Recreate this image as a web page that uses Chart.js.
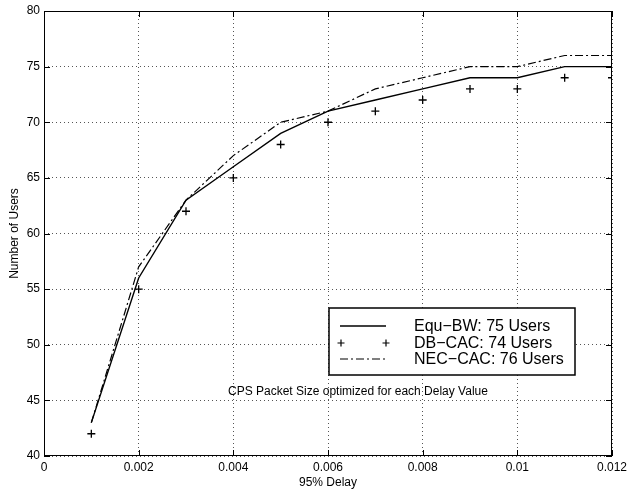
<!DOCTYPE html>
<html>
<head>
<meta charset="utf-8">
<script src="https://cdn.jsdelivr.net/npm/chart.js@4"></script>
<style>
  html, body { margin: 0; padding: 0; background: #fff; }
  #wrap { width: 628px; height: 490px; }
</style>
</head>
<body>
<div id="wrap"><canvas id="grafico1" width="628" height="490"></canvas></div>
<script>
const delays = [0.001, 0.002, 0.003, 0.004, 0.005, 0.006, 0.007, 0.008, 0.009, 0.010, 0.011, 0.012];
const equBW = [43, 56, 63, 66, 69, 71, 72, 73, 74, 74, 75, 75];
const dbCAC = [42, 55, 62, 65, 68, 70, 71, 72, 73, 73, 74, 74];
const necCAC = [43, 57, 63, 67, 70, 71, 73, 74, 75, 75, 76, 76];
const seriesLabels = ["Equ\u2212BW: 75 Users", "DB\u2212CAC: 74 Users", "NEC\u2212CAC: 76 Users"];
const note = "CPS Packet Size optimized for each Delay Value";
const xTitle = "95% Delay";
const yTitle = "Number of Users";

const fonte = "'Liberation Sans', Arial, Helvetica, sans-serif";

function pares(valores) {
    return delays.map((d, i) => ({ x: d, y: valores[i] }));
}

// box, inward ticks, legend and note drawn on top
const extras = {
    id: 'extras',
    afterDraw(chart) {
        const ctx = chart.ctx;
        const a = chart.chartArea;
        const sx = chart.scales.x;
        const sy = chart.scales.y;
        ctx.save();
        ctx.strokeStyle = '#000';
        ctx.lineWidth = 1;
        ctx.strokeRect(a.left + 0.5, a.top + 0.5, a.right - a.left - 1, a.bottom - a.top - 1);

        ctx.beginPath();
        sx.ticks.forEach(t => {
            const px = Math.round(sx.getPixelForValue(t.value)) + 0.5;
            ctx.moveTo(px, a.bottom); ctx.lineTo(px, a.bottom - 6);
            ctx.moveTo(px, a.top); ctx.lineTo(px, a.top + 6);
        });
        sy.ticks.forEach(t => {
            const py = Math.round(sy.getPixelForValue(t.value)) + 0.5;
            ctx.moveTo(a.left, py); ctx.lineTo(a.left + 6, py);
            ctx.moveTo(a.right, py); ctx.lineTo(a.right - 6, py);
        });
        ctx.stroke();

        // note
        ctx.fillStyle = '#000';
        ctx.font = '12px ' + fonte;
        ctx.textAlign = 'left';
        ctx.textBaseline = 'middle';
        ctx.fillText(note, 228, 392);

        // legend
        const bx = 329, by = 308, bw = 246, bh = 67;
        ctx.fillStyle = '#fff';
        ctx.fillRect(bx, by, bw, bh);
        ctx.lineWidth = 1.5;
        ctx.strokeRect(bx, by, bw, bh);
        const rows = [326, 343, 359];
        chart.data.datasets.forEach((ds, i) => {
            const y = rows[i];
            ctx.save();
            ctx.strokeStyle = '#000';
            ctx.lineWidth = ds.borderWidth || 1.2;
            if (ds.showLine === false) {
                [341, 386].forEach(cx => {
                    ctx.beginPath();
                    ctx.moveTo(cx - 3.5, y); ctx.lineTo(cx + 3.5, y);
                    ctx.moveTo(cx, y - 3.5); ctx.lineTo(cx, y + 3.5);
                    ctx.stroke();
                });
            } else {
                ctx.setLineDash(ds.borderDash || []);
                ctx.beginPath();
                ctx.moveTo(340, y); ctx.lineTo(386, y);
                ctx.stroke();
            }
            ctx.restore();
            ctx.fillStyle = '#000';
            ctx.font = '16px ' + fonte;
            ctx.textBaseline = 'middle';
            ctx.fillText(ds.label, 414, y + 1);
        });
        ctx.restore();
    }
};

const ctx = document.getElementById('grafico1').getContext('2d');
new Chart(ctx, {
    type: 'line',
    data: {
        datasets: [
            {
                label: seriesLabels[0],
                data: pares(equBW),
                borderColor: '#000',
                borderWidth: 1.4,
                pointRadius: 0,
                tension: 0,
                fill: false
            },
            {
                label: seriesLabels[1],
                data: pares(dbCAC),
                showLine: false,
                pointStyle: 'cross',
                pointRadius: 4,
                pointBorderColor: '#000',
                pointBorderWidth: 1.3,
                borderColor: '#000'
            },
            {
                label: seriesLabels[2],
                data: pares(necCAC),
                borderColor: '#000',
                borderWidth: 1.2,
                borderDash: [8, 3, 2, 3],
                pointRadius: 0,
                tension: 0,
                fill: false
            }
        ]
    },
    options: {
        responsive: false,
        animation: false,
        layout: { padding: { top: 11, right: 16, left: 0, bottom: 0 } },
        plugins: { legend: { display: false }, tooltip: { enabled: false } },
        scales: {
            x: {
                type: 'linear',
                min: 0,
                max: 0.012,
                ticks: {
                    stepSize: 0.002,
                    color: '#000',
                    font: { family: fonte, size: 12 },
                    padding: 4,
                    maxRotation: 0,
                    callback: v => String(Number(v.toFixed(3)))
                },
                grid: { color: '#555', lineWidth: 1, drawTicks: false },
                border: { display: false, dash: [1, 3] },
                title: { display: true, text: xTitle, color: '#000', font: { family: fonte, size: 12 }, padding: { top: 0, bottom: 0 } },
                afterFit: s => { s.height = 34; s.paddingRight = 0; }
            },
            y: {
                min: 40,
                max: 80,
                ticks: {
                    stepSize: 5,
                    color: '#000',
                    font: { family: fonte, size: 12 },
                    padding: 4
                },
                grid: { color: '#555', lineWidth: 1, drawTicks: false },
                border: { display: false, dash: [1, 3] },
                title: { display: true, text: yTitle, color: '#000', font: { family: fonte, size: 12 }, padding: { top: 7, bottom: 0 } },
                afterFit: s => { s.width = 44; s.paddingTop = 0; s.paddingBottom = 0; }
            }
        }
    },
    plugins: [extras]
});
</script>
</body>
</html>
